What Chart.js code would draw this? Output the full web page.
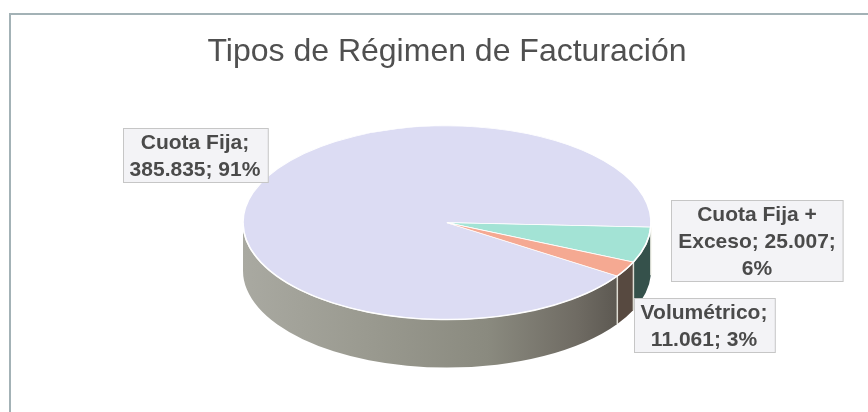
<!DOCTYPE html>
<html lang="es">
<head>
<meta charset="utf-8">
<title>Tipos de Régimen de Facturación</title>
<script src="https://cdn.jsdelivr.net/npm/chart.js@4.4.1/dist/chart.umd.min.js"></script>
<style>
  html, body { margin: 0; padding: 0; background: #fff; }
  #wrap { position: relative; width: 868px; height: 412px; overflow: hidden; }
  #frame {
    position: absolute; left: 9px; top: 13px; right: -10px; bottom: -10px;
    border-top: 2px solid #a3b2b6; border-left: 2px solid #a3b2b6;
    pointer-events: none;
  }
  canvas { position: absolute; left: 0; top: 0; }
</style>
</head>
<body>
<div id="wrap">
  <canvas id="chart" width="868" height="412"></canvas>
  <div id="frame"></div>
</div>
<script>
// datos del gráfico
const titulo = 'Tipos de Régimen de Facturación'
const categorias = ['Cuota Fija', 'Cuota Fija + Exceso', 'Volumétrico']
const usuarios = [385835, 25007, 11061]

// colores: cara superior y lateral de cada porción
const coloresTapa = ['#dcdcf3', '#a3e3d5', '#f5a992']
const coloresLado = [null, '#35514b', '#574940']

// geometría 3D (inclinación y grosor del pastel)
const INCLINACION = 0.475
const GROSOR = 48

// centro de cada etiqueta (cajas de datos estilo Excel)
const posEtiquetas = [[195, 155], [757, 240], [704, 325]]

const total = usuarios.reduce((a, b) => a + b, 0)

// 385835 -> "385.835"
function miles(n) {
  return String(n).replace(/\B(?=(\d{3})+(?!\d))/g, '.')
}

// tramos del ángulo que quedan en la mitad frontal (0..π)
function tramosFrontales(s, e) {
  const out = []
  for (const base of [0, 2 * Math.PI, -2 * Math.PI]) {
    const a = Math.max(s, base), b = Math.min(e, base + Math.PI)
    if (b > a) out.push([a, b])
  }
  return out
}

function partirLineas(ctx, texto, ancho) {
  const palabras = texto.split(' ')
  const lineas = []
  let actual = ''
  palabras.forEach(p => {
    const prueba = actual ? actual + ' ' + p : p
    if (actual && ctx.measureText(prueba).width > ancho) {
      lineas.push(actual)
      actual = p
    } else {
      actual = prueba
    }
  })
  if (actual) lineas.push(actual)
  return lineas
}

const pastel3d = {
  id: 'pastel3d',
  beforeDatasetsDraw(chart) {
    const ctx = chart.ctx
    const arcos = chart.getDatasetMeta(0).data
    const cx = arcos[0].x, cy = arcos[0].y
    const rx = arcos[0].outerRadius, ry = rx * INCLINACION

    // lateral del cilindro
    const grad = ctx.createLinearGradient(cx - rx, 0, cx + rx, 0)
    grad.addColorStop(0, '#a9a9a1')
    grad.addColorStop(0.3, '#9a9a90')
    grad.addColorStop(0.6, '#8a8a7f')
    grad.addColorStop(0.82, '#6f6b63')
    grad.addColorStop(1, '#4d4943')

    ctx.save()
    arcos.forEach((arc, i) => {
      tramosFrontales(arc.startAngle, arc.endAngle).forEach(([a, b]) => {
        ctx.beginPath()
        ctx.ellipse(cx, cy, rx, ry, 0, a, b)
        ctx.ellipse(cx, cy + GROSOR, rx, ry, 0, b, a, true)
        ctx.closePath()
        ctx.fillStyle = coloresLado[i] || grad
        ctx.fill()
      })
    })
    // separaciones verticales entre porciones en el lateral
    ctx.strokeStyle = 'rgba(240,240,230,0.85)'
    ctx.lineWidth = 1.5
    arcos.forEach(arc => {
      const t = ((arc.startAngle % (2 * Math.PI)) + 2 * Math.PI) % (2 * Math.PI)
      if (t > 0.02 && t < Math.PI - 0.02) {
        const x = cx + rx * Math.cos(t), y = cy + ry * Math.sin(t)
        ctx.beginPath()
        ctx.moveTo(x, y)
        ctx.lineTo(x, y + GROSOR)
        ctx.stroke()
      }
    })
    ctx.restore()

    // aplanar la cara superior
    ctx.save()
    ctx.translate(cx, cy)
    ctx.scale(1, INCLINACION)
    ctx.translate(-cx, -cy)
  },
  afterDatasetsDraw(chart) {
    const ctx = chart.ctx
    ctx.restore()
    const arc = chart.getDatasetMeta(0).data[0]
    const rx = arc.outerRadius, ry = rx * INCLINACION
    ctx.save()
    ctx.strokeStyle = 'rgba(255,255,255,0.9)'
    ctx.lineWidth = 1.5
    ctx.beginPath()
    ctx.ellipse(arc.x, arc.y, rx, ry, 0, 0.03, Math.PI)
    ctx.stroke()
    ctx.restore()
  }
}

const etiquetas = {
  id: 'etiquetas',
  afterDraw(chart) {
    const ctx = chart.ctx
    ctx.save()
    ctx.font = 'bold 21px "Liberation Sans", Arial, sans-serif'
    ctx.textAlign = 'center'
    ctx.textBaseline = 'middle'
    const alto = 27
    categorias.forEach((cat, i) => {
      const pct = Math.round(usuarios[i] / total * 100)
      const texto = `${cat}; ${miles(usuarios[i])}; ${pct}%`
      const lineas = partirLineas(ctx, texto, 160)
      const ancho = Math.max(...lineas.map(l => ctx.measureText(l).width)) + 14
      const h = lineas.length * alto
      const [x, y] = posEtiquetas[i]
      const left = Math.round(x - ancho / 2) + 0.5, top = Math.round(y - h / 2) + 0.5
      ctx.fillStyle = '#f3f3f6'
      ctx.fillRect(left, top, ancho, h)
      ctx.strokeStyle = '#c6c6c6'
      ctx.lineWidth = 1
      ctx.strokeRect(left, top, ancho, h)
      ctx.fillStyle = '#4a4a4a'
      lineas.forEach((l, k) => ctx.fillText(l, x, top + alto * k + alto / 2 + 1))
    })
    ctx.restore()
  }
}

new Chart(document.getElementById('chart').getContext('2d'), {
  type: 'pie',
  data: {
    labels: categorias,
    datasets: [{
      data: usuarios,
      backgroundColor: coloresTapa,
      borderColor: '#ffffff',
      borderWidth: 1.5,
      radius: 204
    }]
  },
  options: {
    responsive: false,
    animation: false,
    events: [],
    rotation: 123.4,
    layout: { padding: { left: 26, right: 0, top: 0, bottom: 46 } },
    plugins: {
      legend: { display: false },
      tooltip: { enabled: false },
      title: {
        display: true,
        text: titulo,
        color: '#505050',
        font: { family: '"Liberation Sans", Arial, sans-serif', size: 32, weight: 'normal' },
        padding: { top: 33, bottom: 8 }
      }
    }
  },
  plugins: [pastel3d, etiquetas]
})
</script>
</body>
</html>
